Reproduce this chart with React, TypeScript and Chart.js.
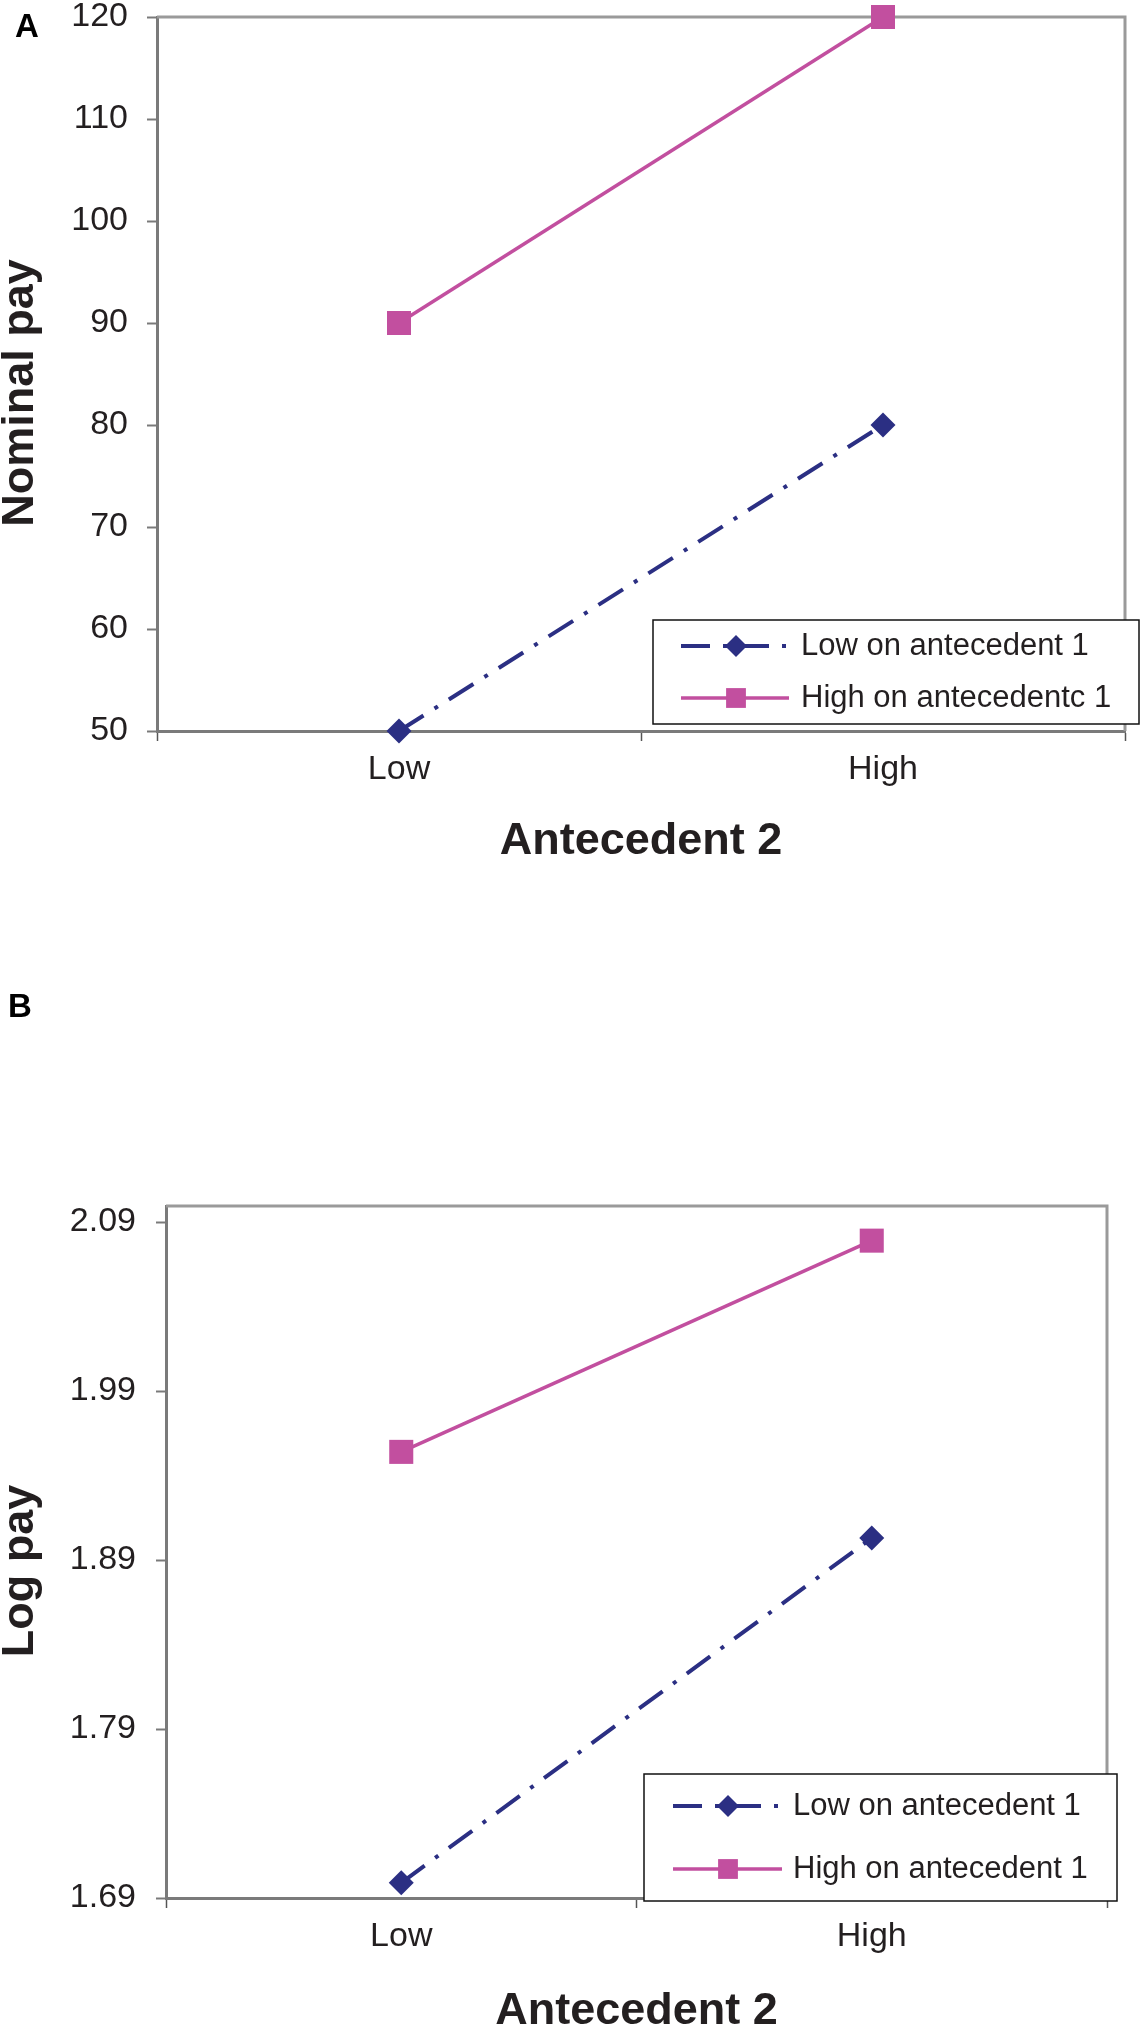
import React, { useEffect, useRef } from 'react';
import { Chart, registerables } from 'chart.js';

Chart.register(...registerables);

// ---------- data ----------
const CATEGORIES = ['Low', 'High'];

const A_LOW_SERIES = [50, 80];
const A_HIGH_SERIES = [90, 120];
const A_LABELS = ['Low on antecedent 1', 'High on antecedentc 1'];
const A_Y_MIN = 50;
const A_Y_MAX = 120;
const A_Y_STEP = 10;

const B_LOW_SERIES = [1.699, 1.903];
const B_HIGH_SERIES = [1.954, 2.079];
const B_LABELS = ['Low on antecedent 1', 'High on antecedent 1'];
const B_TICKS = [1.69, 1.79, 1.89, 1.99, 2.09];
const B_Y_MIN = 1.69;
const B_Y_MAX = 2.0995;

const X_TITLE = 'Antecedent 2';
const A_Y_TITLE = 'Nominal pay';
const B_Y_TITLE = 'Log pay';

// ---------- style ----------
const NAVY = '#2b2f83';
const PINK = '#c24f9f';
const FONT = '"Liberation Sans", Arial, Helvetica, sans-serif';
const TEXT = '#231f20';
const AXIS = '#7a7a7a';
const FRAME = '#9a9a9a';
const DASH_DOT = [29, 13, 4, 13];

const framePlugin = {
  id: 'frame',
  beforeDatasetsDraw(chart: any, _a: any, opts: any) {
    const { ctx, chartArea } = chart;
    const { left, right, top, bottom } = chartArea;
    ctx.save();
    ctx.strokeStyle = opts.color;
    ctx.lineWidth = opts.width;
    ctx.beginPath();
    ctx.moveTo(left, top);
    ctx.lineTo(right, top);
    ctx.lineTo(right, bottom);
    ctx.stroke();
    ctx.restore();
  },
};

// vertical axis title, centred a little below the middle of the axis as in the original
const yTitlePlugin = {
  id: 'yTitle',
  afterDraw(chart: any, _a: any, opts: any) {
    const { ctx, chartArea } = chart;
    const y = (chartArea.top + chartArea.bottom) / 2 + opts.shift;
    ctx.save();
    ctx.translate(opts.x, y);
    ctx.rotate(-Math.PI / 2);
    ctx.fillStyle = TEXT;
    ctx.font = `bold 45px ${FONT}`;
    ctx.textAlign = 'center';
    ctx.textBaseline = 'middle';
    ctx.fillText(opts.text, 0, 0);
    ctx.restore();
  },
};

const boxLegendPlugin = {
  id: 'boxLegend',
  afterDraw(chart: any, _a: any, opts: any) {
    const { ctx } = chart;
    const { left, top, width, height, rowOffsets, lineStart, lineEnd, markerX, textX, markerRadii } = opts;
    ctx.save();
    ctx.fillStyle = '#ffffff';
    ctx.fillRect(left, top, width, height);
    ctx.strokeStyle = '#111111';
    ctx.lineWidth = 1.5;
    ctx.strokeRect(left, top, width, height);
    chart.data.datasets.forEach((ds: any, i: number) => {
      const y = top + rowOffsets[i];
      ctx.save();
      ctx.strokeStyle = ds.borderColor;
      ctx.lineWidth = ds.borderWidth;
      ctx.lineCap = 'butt';
      ctx.setLineDash(ds.borderDash || []);
      ctx.beginPath();
      ctx.moveTo(left + lineStart, y);
      ctx.lineTo(left + lineEnd, y);
      ctx.stroke();
      ctx.setLineDash([]);
      const mx = left + markerX;
      const r = markerRadii[i];
      ctx.fillStyle = ds.pointBackgroundColor;
      ctx.beginPath();
      if (ds.pointStyle === 'rectRot') {
        ctx.moveTo(mx - r, y);
        ctx.lineTo(mx, y - r);
        ctx.lineTo(mx + r, y);
        ctx.lineTo(mx, y + r);
        ctx.closePath();
      } else {
        const s = r * Math.SQRT1_2;
        ctx.rect(mx - s, y - s, 2 * s, 2 * s);
      }
      ctx.fill();
      ctx.restore();
      ctx.fillStyle = TEXT;
      ctx.font = `31px ${FONT}`;
      ctx.textBaseline = 'middle';
      ctx.textAlign = 'left';
      ctx.fillText(ds.label, left + textX, y);
    });
    ctx.restore();
  },
};

function makeDatasets(low: number[], high: number[], labels: string[]) {
  return [
    {
      label: labels[0],
      data: low,
      borderColor: NAVY,
      backgroundColor: NAVY,
      borderWidth: 4,
      borderDash: DASH_DOT,
      borderCapStyle: 'butt',
      pointStyle: 'rectRot',
      pointRadius: 12.5,
      pointBackgroundColor: NAVY,
      pointBorderWidth: 0,
      clip: false,
      tension: 0,
    },
    {
      label: labels[1],
      data: high,
      borderColor: PINK,
      backgroundColor: PINK,
      borderWidth: 3.5,
      pointStyle: 'rect',
      pointRadius: 17,
      pointBackgroundColor: PINK,
      pointBorderWidth: 0,
      clip: false,
      tension: 0,
    },
  ];
}

interface PanelSpec {
  canvasHeight: number;
  padding: { top: number; right: number; bottom: number; left: number };
  yWidth: number;
  xHeight: number;
  yPad: number;
  yTitle: string;
  yScale: any;
  legend: any;
  datasets: any[];
}

function makeConfig(p: PanelSpec): any {
  return {
    type: 'line',
    data: { labels: CATEGORIES, datasets: p.datasets },
    options: {
      animation: false,
      responsive: false,
      devicePixelRatio: 1,
      events: [],
      layout: { padding: p.padding },
      plugins: {
        legend: { display: false },
        tooltip: { enabled: false },
        frame: { color: FRAME, width: 3 },
        yTitle: { text: p.yTitle, x: 20.25, shift: 19 },
        boxLegend: p.legend,
      },
      scales: {
        x: {
          type: 'category',
          offset: true,
          afterFit: (s: any) => {
            s.height = p.xHeight;
            s.paddingLeft = 0;
            s.paddingRight = 0;
          },
          grid: {
            offset: true,
            drawOnChartArea: false,
            drawTicks: true,
            tickLength: 10,
            tickWidth: 1.5,
            tickColor: '#555555',
            color: '#555555',
          },
          border: { display: true, color: AXIS, width: 3 },
          ticks: {
            color: TEXT,
            padding: 12,
            maxRotation: 0,
            font: { family: FONT, size: 34, lineHeight: 1 },
          },
          title: {
            display: true,
            text: X_TITLE,
            color: TEXT,
            padding: 0,
            font: { family: FONT, size: 45, weight: 'bold', lineHeight: 0.9 },
          },
        },
        y: {
          ...p.yScale,
          afterFit: (s: any) => {
            s.width = p.yWidth;
            s.paddingTop = 0;
            s.paddingBottom = 0;
          },
          grid: {
            drawOnChartArea: false,
            drawTicks: true,
            tickLength: 10,
            tickWidth: 2,
            tickColor: AXIS,
            color: AXIS,
          },
          border: { display: true, color: AXIS, width: 3 },
          ticks: {
            ...(p.yScale.ticks || {}),
            color: TEXT,
            padding: p.yPad,
            font: { family: FONT, size: 34, lineHeight: 1 },
          },
          title: { display: false },
        },
      },
    },
    plugins: [framePlugin, yTitlePlugin, boxLegendPlugin],
  };
}

const PANEL_A: PanelSpec = {
  canvasHeight: 900,
  padding: { top: 16, right: 10, bottom: 37.75, left: 0 },
  yWidth: 157,
  xHeight: 131.25,
  yPad: 19,
  yTitle: A_Y_TITLE,
  yScale: {
    type: 'linear',
    min: A_Y_MIN,
    max: A_Y_MAX,
    ticks: { stepSize: A_Y_STEP },
  },
  legend: {
    left: 653,
    top: 620,
    width: 486,
    height: 104,
    rowOffsets: [26, 78],
    lineStart: 28,
    lineEnd: 136,
    markerX: 83,
    textX: 148,
    markerRadii: [11, 14],
  },
  datasets: makeDatasets(A_LOW_SERIES, A_HIGH_SERIES, A_LABELS),
};

const PANEL_B: PanelSpec = {
  canvasHeight: 1073,
  padding: { top: 246, right: 35, bottom: 0.75, left: 0 },
  yWidth: 166,
  xHeight: 134.25,
  yPad: 20,
  yTitle: B_Y_TITLE,
  yScale: {
    type: 'linear',
    min: B_Y_MIN,
    max: B_Y_MAX,
    afterBuildTicks: (s: any) => {
      s.ticks = B_TICKS.map((v) => ({ value: v }));
    },
    ticks: { callback: (v: any) => Number(v).toFixed(2) },
  },
  legend: {
    left: 644,
    top: 814,
    width: 473,
    height: 127,
    rowOffsets: [32, 95],
    lineStart: 29,
    lineEnd: 138,
    markerX: 84,
    textX: 149,
    markerRadii: [11, 14],
  },
  datasets: makeDatasets(B_LOW_SERIES, B_HIGH_SERIES, B_LABELS),
};

function Panel({ spec, top }: { spec: PanelSpec; top: number }) {
  const ref = useRef<HTMLCanvasElement>(null);
  useEffect(() => {
    const chart = new Chart(ref.current as HTMLCanvasElement, makeConfig(spec));
    return () => chart.destroy();
  }, [spec]);
  return (
    <canvas
      ref={ref}
      width={1142}
      height={spec.canvasHeight}
      style={{ position: 'absolute', left: 0, top, width: 1142, height: spec.canvasHeight, display: 'block' }}
    />
  );
}

const panelLetter: React.CSSProperties = {
  position: 'absolute',
  fontFamily: FONT,
  fontWeight: 'bold',
  fontSize: 33,
  lineHeight: '33px',
  color: '#000',
};

export default function App() {
  return (
    <div
      style={{
        position: 'absolute',
        left: 0,
        top: 0,
        width: 1142,
        height: 2033,
        overflow: 'hidden',
        background: '#ffffff',
      }}
    >
      <Panel spec={PANEL_A} top={0} />
      <Panel spec={PANEL_B} top={960} />
      <div style={{ ...panelLetter, left: 15, top: 8.7 }}>A</div>
      <div style={{ ...panelLetter, left: 8, top: 988.7 }}>B</div>
    </div>
  );
}
